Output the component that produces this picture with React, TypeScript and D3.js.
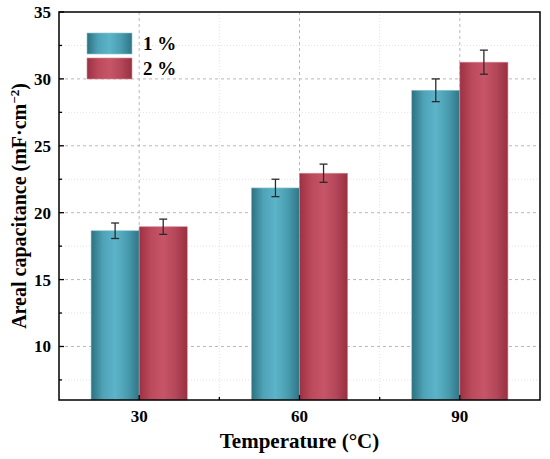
import { useEffect, useRef } from "react";
import * as d3 from "d3";

// data
const temperatures = [30, 60, 90];
const series = ["1 %", "2 %"];
const values1 = [18.65, 21.85, 29.15];
const values2 = [18.95, 22.95, 31.25];
const errors1 = [0.58, 0.65, 0.85];
const errors2 = [0.57, 0.68, 0.9];
const yMajorTicks = [10, 15, 20, 25, 30, 35];
const yMinorTicks = [7.5, 12.5, 17.5, 22.5, 27.5, 32.5];
const xMajorTicks = [30, 60, 90];
const xMinorTicks = [45, 75];

const App: React.FC = () => {
    const svgRef = useRef<SVGSVGElement>(null);

    useEffect(() => {
        const width = 550;
        const height = 459;
        const left = 59, right = 540, top = 12, bottom = 400;
        const font = "'Liberation Serif', 'Times New Roman', serif";

        const svg = d3.select(svgRef.current);
        svg.selectAll("*").remove();
        svg.attr("width", width).attr("height", height);

        const x = d3.scaleLinear().domain([15, 105]).range([left, right]);
        const y = d3.scaleLinear().domain([6, 35]).range([bottom, top]);
        const barW = x(39) - x(30);

        // gradients
        const defs = svg.append("defs");
        const grads = [
            { id: "g1", stops: ["#2c7180", "#4fa3b8", "#5cb4c8", "#4a9db1", "#2f7584"] },
            { id: "g2", stops: ["#9c3143", "#bb4a5c", "#c65667", "#b5475a", "#98303f"] },
        ];
        grads.forEach(g => {
            const lg = defs.append("linearGradient").attr("id", g.id)
                .attr("x1", "0").attr("x2", "1").attr("y1", "0").attr("y2", "0");
            g.stops.forEach((c, i) => {
                lg.append("stop").attr("offset", `${(i / (g.stops.length - 1)) * 100}%`).attr("stop-color", c);
            });
        });

        // grid
        const grid = svg.append("g");
        grid.selectAll("line.ymaj").data(yMajorTicks.filter(d => d < 35)).enter().append("line")
            .attr("x1", left).attr("x2", right).attr("y1", d => y(d)).attr("y2", d => y(d))
            .attr("stroke", "#b8b8b8").attr("stroke-width", 1).attr("stroke-dasharray", "3,3");
        grid.selectAll("line.ymin").data(yMinorTicks).enter().append("line")
            .attr("x1", left).attr("x2", right).attr("y1", d => y(d)).attr("y2", d => y(d))
            .attr("stroke", "#e2e2e2").attr("stroke-width", 1).attr("stroke-dasharray", "1,2");
        grid.selectAll("line.xmaj").data(xMajorTicks).enter().append("line")
            .attr("y1", top).attr("y2", bottom).attr("x1", d => x(d)).attr("x2", d => x(d))
            .attr("stroke", "#b8b8b8").attr("stroke-width", 1).attr("stroke-dasharray", "3,3");
        grid.selectAll("line.xmin").data(xMinorTicks).enter().append("line")
            .attr("y1", top).attr("y2", bottom).attr("x1", d => x(d)).attr("x2", d => x(d))
            .attr("stroke", "#e2e2e2").attr("stroke-width", 1).attr("stroke-dasharray", "1,2");

        // bars
        const allSeries = [
            { vals: values1, errs: errors1, fill: "url(#g1)", off: -barW, edge: "#8cc6d4" },
            { vals: values2, errs: errors2, fill: "url(#g2)", off: 0, edge: "#d78a96" },
        ];
        allSeries.forEach(s => {
            svg.append("g").selectAll("rect").data(temperatures).enter().append("rect")
                .attr("x", d => x(d) + s.off)
                .attr("y", (d, i) => y(s.vals[i]))
                .attr("width", barW)
                .attr("height", (d, i) => bottom - y(s.vals[i]))
                .attr("fill", s.fill)
                .attr("stroke", s.edge).attr("stroke-width", 0.6);
        });

        // error bars
        allSeries.forEach(s => {
            const g = svg.append("g").attr("stroke", "#2b2b2b").attr("stroke-width", 1.3);
            temperatures.forEach((t, i) => {
                const cx = x(t) + s.off + barW / 2;
                const hi = y(s.vals[i] + s.errs[i]);
                const lo = y(s.vals[i] - s.errs[i]);
                g.append("line").attr("x1", cx).attr("x2", cx).attr("y1", hi).attr("y2", lo);
                g.append("line").attr("x1", cx - 4).attr("x2", cx + 4).attr("y1", hi).attr("y2", hi);
                g.append("line").attr("x1", cx - 4).attr("x2", cx + 4).attr("y1", lo).attr("y2", lo);
            });
        });

        // frame
        svg.append("rect").attr("x", left).attr("y", top)
            .attr("width", right - left).attr("height", bottom - top)
            .attr("fill", "none").attr("stroke", "#000").attr("stroke-width", 1.5);

        // ticks (inward)
        const ticks = svg.append("g").attr("stroke", "#000").attr("stroke-width", 1.3);
        yMajorTicks.forEach(d => {
            ticks.append("line").attr("x1", left).attr("x2", left + 5).attr("y1", y(d)).attr("y2", y(d));
        });
        yMinorTicks.forEach(d => {
            ticks.append("line").attr("x1", left).attr("x2", left + 3).attr("y1", y(d)).attr("y2", y(d));
        });
        xMajorTicks.forEach(d => {
            ticks.append("line").attr("y1", bottom).attr("y2", bottom - 5).attr("x1", x(d)).attr("x2", x(d));
        });
        xMinorTicks.forEach(d => {
            ticks.append("line").attr("y1", bottom).attr("y2", bottom - 3).attr("x1", x(d)).attr("x2", x(d));
        });

        // tick labels
        svg.append("g").selectAll("text").data(yMajorTicks).enter().append("text")
            .attr("x", left - 8).attr("y", d => y(d) + 6)
            .attr("text-anchor", "end")
            .style("font-family", font).style("font-weight", "bold").style("font-size", "17px")
            .text(d => d);
        svg.append("g").selectAll("text").data(xMajorTicks).enter().append("text")
            .attr("x", d => x(d)).attr("y", 422)
            .attr("text-anchor", "middle")
            .style("font-family", font).style("font-weight", "bold").style("font-size", "17px")
            .text(d => d);

        // axis titles
        svg.append("text")
            .attr("x", (left + right) / 2).attr("y", 448)
            .attr("text-anchor", "middle")
            .style("font-family", font).style("font-weight", "bold").style("font-size", "21px")
            .text("Temperature (°C)");
        const yt = svg.append("text")
            .attr("transform", `translate(26,${(top + bottom) / 2}) rotate(-90)`)
            .attr("text-anchor", "middle")
            .style("font-family", font).style("font-weight", "bold").style("font-size", "20px");
        yt.append("tspan").text("Areal capacitance (mF·cm");
        yt.append("tspan").attr("dy", -7).style("font-size", "13px").text("−2");
        yt.append("tspan").attr("dy", 7).text(")");

        // legend
        const legend = svg.append("g");
        series.forEach((name, i) => {
            legend.append("rect").attr("x", 87).attr("y", 33 + i * 25)
                .attr("width", 45).attr("height", 21)
                .attr("fill", i === 0 ? "url(#g1)" : "url(#g2)")
                .attr("stroke", i === 0 ? "#8cc6d4" : "#d78a96").attr("stroke-width", 0.6);
            legend.append("text").attr("x", 143).attr("y", 50 + i * 25)
                .style("font-family", font).style("font-weight", "bold").style("font-size", "19px")
                .text(name);
        });
    }, []);

    return (
        <svg ref={svgRef} style={{ position: "absolute", left: 0, top: 0, background: "#fff" }}></svg>
    );
};

export default App;
